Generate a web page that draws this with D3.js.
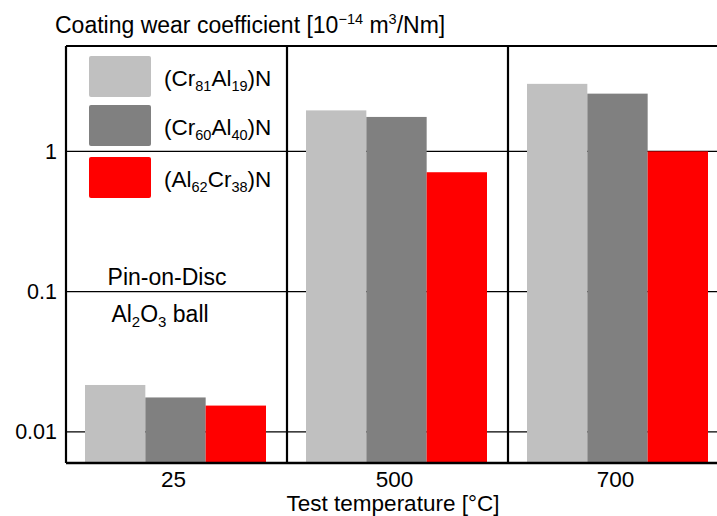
<!DOCTYPE html>
<html>
  <head>
    <meta charset="utf-8" />
    <script src="https://cdn.jsdelivr.net/npm/d3@7"></script>
    <style>
      body {
        margin: 0;
        background: #ffffff;
      }
      svg {
        display: block;
        font-family: "Liberation Sans", Arial, sans-serif;
      }
    </style>
  </head>
  <body>
    <svg id="chart" width="717" height="516"></svg>
    <script>
      // data
      const temps = ["25", "500", "700"];
      const series = ["(Cr81Al19)N", "(Cr60Al40)N", "(Al62Cr38)N"];
      const seriesLabel = [
        [["(Cr", ""], ["81", "sub"], ["Al", ""], ["19", "sub"], [")N", ""]],
        [["(Cr", ""], ["60", "sub"], ["Al", ""], ["40", "sub"], [")N", ""]],
        [["(Al", ""], ["62", "sub"], ["Cr", ""], ["38", "sub"], [")N", ""]],
      ];
      const colors = ["#c0c0c0", "#808080", "#ff0000"];
      const wear25 = [0.0216, 0.0176, 0.0154];
      const wear500 = [1.96, 1.76, 0.71];
      const wear700 = [3.03, 2.58, 1.0];
      const yTicks = [0.01, 0.1, 1];

      const values = [wear25, wear500, wear700];

      const svg = d3.select("#chart");
      const plotLeft = 66, plotRight = 729, plotTop = 46, plotBottom = 463;
      const fs = 22.5, fsSub = 14.5;

      const x = d3.scaleBand().domain(temps).range([plotLeft, plotRight]);
      const xs = d3.scaleBand().domain(series).range([19, 200]);
      const y = d3.scaleLog().domain([0.006, 5.64]).range([plotBottom, plotTop]);

      // gridlines
      svg.append("g")
        .selectAll("line")
        .data(yTicks)
        .join("line")
        .attr("x1", plotLeft)
        .attr("x2", plotRight)
        .attr("y1", (d) => y(d))
        .attr("y2", (d) => y(d))
        .attr("stroke", "#000")
        .attr("stroke-width", 1.3);

      // y tick labels
      svg.append("g")
        .selectAll("text")
        .data(yTicks)
        .join("text")
        .attr("x", 57)
        .attr("y", (d) => y(d))
        .attr("dy", "0.35em")
        .attr("text-anchor", "end")
        .attr("font-size", 21.5)
        .text((d) => String(d));

      // bars
      const groups = svg.append("g")
        .selectAll("g")
        .data(temps)
        .join("g")
        .attr("transform", (d) => `translate(${x(d)},0)`);

      groups.selectAll("rect")
        .data((d, i) => values[i].map((v, j) => ({ s: series[j], v, c: colors[j] })))
        .join("rect")
        .attr("x", (d) => xs(d.s))
        .attr("width", xs.bandwidth())
        .attr("y", (d) => y(d.v))
        .attr("height", (d) => plotBottom - y(d.v))
        .attr("fill", (d) => d.c);

      // frame and group separators
      const frame = svg.append("g").attr("stroke", "#000").attr("stroke-width", 2.2);
      frame.append("line").attr("x1", plotLeft).attr("x2", plotRight).attr("y1", plotTop).attr("y2", plotTop);
      frame.append("line").attr("x1", plotLeft).attr("x2", plotRight).attr("y1", plotBottom).attr("y2", plotBottom).attr("stroke-width", 2.6);
      frame.append("line").attr("x1", plotLeft).attr("x2", plotLeft).attr("y1", plotTop).attr("y2", plotBottom);
      frame.selectAll("line.sep")
        .data(temps.slice(1))
        .join("line")
        .attr("class", "sep")
        .attr("x1", (d) => x(d))
        .attr("x2", (d) => x(d))
        .attr("y1", plotTop)
        .attr("y2", plotBottom);

      // x tick labels
      svg.append("g")
        .selectAll("text")
        .data(temps)
        .join("text")
        .attr("x", (d) => x(d) + x.bandwidth() / 2 - 3)
        .attr("y", 487)
        .attr("text-anchor", "middle")
        .attr("font-size", fs)
        .text((d) => d);

      svg.append("text")
        .attr("x", 393)
        .attr("y", 511)
        .attr("text-anchor", "middle")
        .attr("font-size", fs)
        .text("Test temperature [°C]");

      // title
      const title = svg.append("text").attr("x", 55).attr("y", 33).attr("font-size", 23);
      title.append("tspan").text("Coating wear coefficient [10");
      title.append("tspan").attr("dy", -9).attr("font-size", fsSub).text("\u221214");
      title.append("tspan").attr("dy", 9).text(" m");
      title.append("tspan").attr("dy", -9).attr("font-size", fsSub).text("3");
      title.append("tspan").attr("dy", 9).text("/Nm]");

      // legend
      const legendY = [56, 105, 157];
      const legend = svg.append("g")
        .selectAll("g")
        .data(series)
        .join("g")
        .attr("transform", (d, i) => `translate(89,${legendY[i]})`);

      legend.append("rect")
        .attr("width", 62)
        .attr("height", 41)
        .attr("rx", 2)
        .attr("fill", (d, i) => colors[i]);

      legend.append("text")
        .attr("x", 75)
        .attr("y", 30)
        .attr("font-size", fs)
        .each(function (d, i) {
          const t = d3.select(this);
          let shifted = false;
          seriesLabel[i].forEach(([s, kind]) => {
            const sp = t.append("tspan").text(s);
            if (kind === "sub" && !shifted) {
              sp.attr("dy", 5).attr("font-size", fsSub);
              shifted = true;
            } else if (kind === "sub") {
              sp.attr("font-size", fsSub);
            } else if (shifted) {
              sp.attr("dy", -5);
              shifted = false;
            }
          });
        });

      // annotation
      svg.append("text")
        .attr("x", 167)
        .attr("y", 285)
        .attr("text-anchor", "middle")
        .attr("font-size", 23)
        .text("Pin-on-Disc");

      const ann = svg.append("text")
        .attr("x", 160)
        .attr("y", 322)
        .attr("text-anchor", "middle")
        .attr("font-size", 23);
      ann.append("tspan").text("Al");
      ann.append("tspan").attr("dy", 5).attr("font-size", 15).text("2");
      ann.append("tspan").attr("dy", -5).text("O");
      ann.append("tspan").attr("dy", 5).attr("font-size", 15).text("3");
      ann.append("tspan").attr("dy", -5).text(" ball");
    </script>
  </body>
</html>
